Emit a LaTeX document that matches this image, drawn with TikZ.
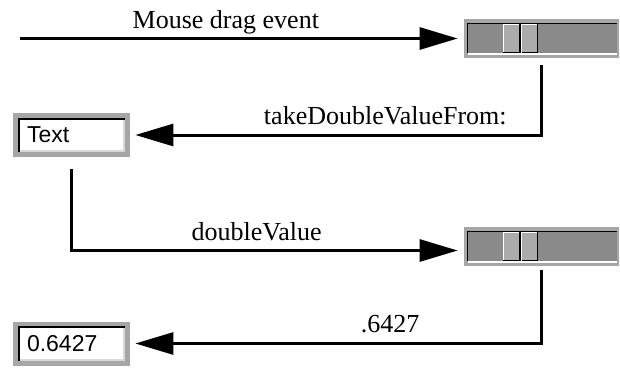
\documentclass[tikz,border=0pt]{standalone}
\usepackage{fontspec}
\setmainfont{Liberation Serif}
\newfontfamily\uifont{Liberation Sans}
\usetikzlibrary{arrows.meta}
\definecolor{frame}{HTML}{A6A6A6}
\definecolor{track}{HTML}{8A8A8A}
\definecolor{knob}{HTML}{ABABAB}
\definecolor{shade}{HTML}{3C3C3C}
\definecolor{lite}{HTML}{D8D8D8}

\begin{document}
\begin{tikzpicture}[x=0.5pt, y=-0.5pt,
  font=\fontsize{13}{15}\selectfont,
  slider/.style={fill=frame, minimum width=77.5pt, minimum height=19.5pt, inner sep=0pt},
  groove/.style={fill=track, minimum width=75pt, minimum height=15pt, inner sep=0pt,
    anchor=north west},
  thumb/.style={fill=knob, minimum width=17.5pt, minimum height=14.5pt, inner sep=0pt,
    anchor=north west},
  field/.style={fill=frame, minimum height=22pt, text width=44.5pt, inner xsep=7pt,
    align=left, font=\uifont\fontsize{11.5}{13}\selectfont},
  well/.style={fill=white, minimum width=53.5pt, minimum height=17pt, inner sep=0pt},
  arr/.style={-{Triangle[length=19pt, width=11pt]}, line width=1.5pt},
  lab/.style={anchor=base, inner sep=0pt, yshift=5.2pt}
]
\useasboundingbox (0,0) rectangle (620,369);
% ----- widgets -----
\node[slider] (sl1) at (541.5,38.5) {};
\node[slider] (sl2) at (541.5,246.5) {};
\node[field]  (fld1) at (71.5,135) {};
\node[field]  (fld2) at (71.5,343.5) {};
\foreach \s in {sl1,sl2}{
  \node[groove] (\s g) at ([xshift=1.5pt, yshift=-2pt]\s.north west) {};
  \draw[white, line width=1pt] ([xshift=2pt, yshift=2pt]\s.south west) -- ([xshift=-1pt, yshift=2pt]\s.south east);
  \draw[shade, line width=0.75pt] ([xshift=0.4pt]\s g.south west) -- ([xshift=0.4pt]\s g.north west);
  \draw[shade, line width=0.75pt] ([yshift=-0.4pt]\s g.north west) -- ([yshift=-0.4pt]\s g.north east);
  \node[thumb] (\s k) at ([xshift=18pt, yshift=-0.5pt]\s g.north west) {};
  \draw[white, line width=0.75pt] ([xshift=0.4pt]\s k.south west) -- ([xshift=0.4pt]\s k.north west);
  \draw[white, line width=0.75pt] ([yshift=-0.4pt]\s k.north west) -- ([yshift=-0.4pt]\s k.north east);
  \draw[black, line width=0.75pt] ([yshift=0.4pt]\s k.south west) -- ([yshift=0.4pt]\s k.south east);
  \draw[black, line width=0.75pt] ([xshift=-0.4pt]\s k.south east) -- ([xshift=-0.4pt]\s k.north east);
  \draw[shade, line width=0.6pt] ([xshift=-0.3pt]\s k.north) -- ([xshift=-0.3pt]\s k.south);
  \draw[white, line width=0.6pt] ([xshift=0.3pt]\s k.north) -- ([xshift=0.3pt]\s k.south);
}
\foreach \f/\txt in {fld1/Text,fld2/0.6427}{
  \node[well] (\f w) at (\f) {};
  \draw[lite, line width=1pt] ([yshift=0.5pt]\f w.south west) -- ([yshift=0.5pt]\f w.south east);
  \draw[lite, line width=1pt] ([xshift=-0.5pt]\f w.south east) -- ([xshift=-0.5pt]\f w.north east);
  \draw[shade, line width=1pt] ([xshift=0.5pt]\f w.south west) -- ([xshift=0.5pt]\f w.north west);
  \draw[shade, line width=1pt] ([yshift=-0.5pt]\f w.north west) -- ([yshift=-0.5pt]\f w.north east);
  \node[field, fill=none] at (\f) {\txt};
}
\coordinate (drag) at (20,38.5);
% ----- messages -----
\draw[arr, shorten >=3pt] (drag) -- node[lab, pos=0.464]{Mouse drag event} (sl1.west);
\draw[arr, shorten <=3.5pt, shorten >=2.5pt] (sl1.south) |-
  node[lab, pos=0.69]{takeDoubleValueFrom:} (fld1.east);
\draw[arr, shorten <=6pt, shorten >=3pt] (fld1.south) |-
  node[lab, pos=0.736]{doubleValue} ([yshift=-2pt]sl2.west);
\draw[arr, shorten <=2pt, shorten >=2.5pt] (sl2.south) |-
  node[lab, pos=0.684, yshift=0.5pt]{.6427} (fld2.east);
\end{tikzpicture}
\end{document}
